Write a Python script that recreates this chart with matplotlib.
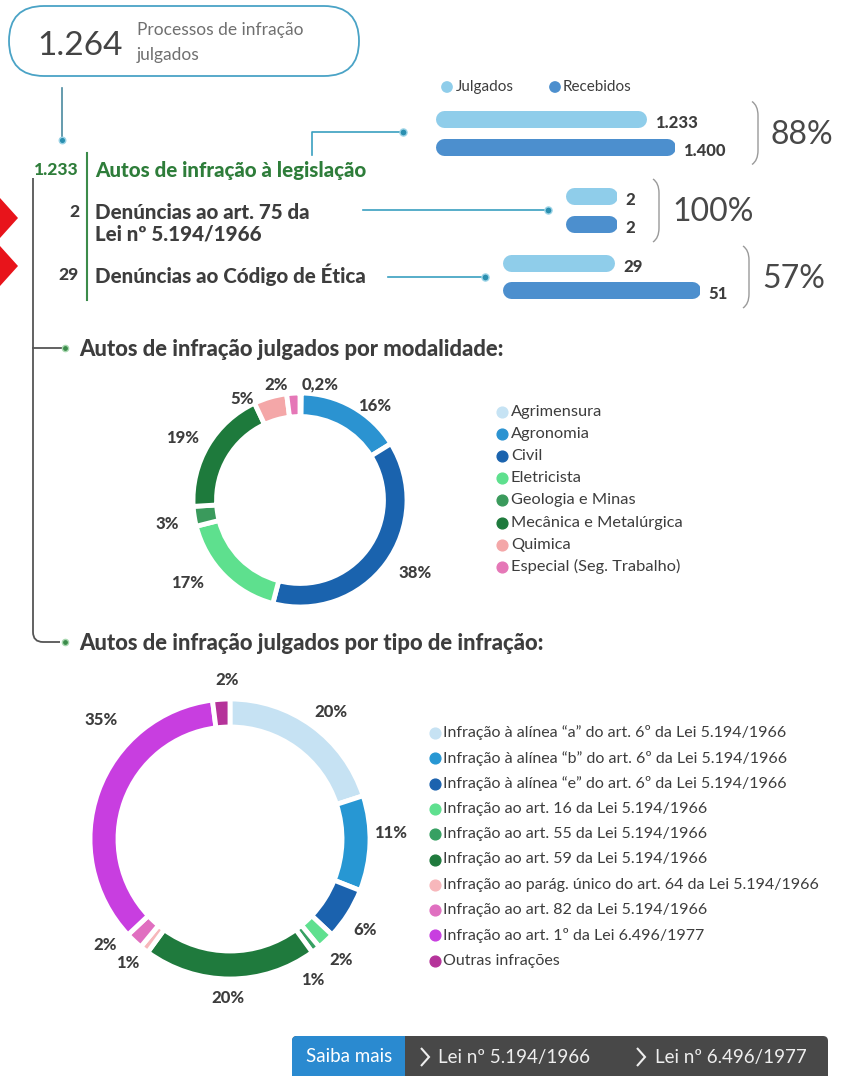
import numpy as np
import matplotlib.pyplot as plt
from matplotlib.patches import FancyBboxPatch, PathPatch, Polygon, Rectangle
from matplotlib.path import Path

plt.rcParams['font.family'] = ['Lato', 'DejaVu Sans']

# ---- dados ----
total_julgados = 1264
linhas = ['Autos de infração à legislação',
          'Denúncias ao art. 75 da\nLei nº 5.194/1966',
          'Denúncias ao Código de Ética']
julgados = [1233, 2, 29]
recebidos = [1400, 2, 51]
taxa = [88, 100, 57]

modalidades = ['Agrimensura', 'Agronomia', 'Civil', 'Eletricista', 'Geologia e Minas',
               'Mecânica e Metalúrgica', 'Quimica', 'Especial (Seg. Trabalho)']
modal_pct = [0.2, 16, 38, 17, 3, 19, 5, 2]
modal_cores = ['#c6e3f4', '#2b93d1', '#1a63ae', '#5ee08e', '#3a9a5c', '#1e7a3c', '#f4a7a8', '#e577b7']

tipos = ['Infração à alínea “a” do art. 6º da Lei 5.194/1966',
         'Infração à alínea “b” do art. 6º da Lei 5.194/1966',
         'Infração à alínea “e” do art. 6º da Lei 5.194/1966',
         'Infração ao art. 16 da Lei 5.194/1966',
         'Infração ao art. 55 da Lei 5.194/1966',
         'Infração ao art. 59 da Lei 5.194/1966',
         'Infração ao parág. único do art. 64 da Lei 5.194/1966',
         'Infração ao art. 82 da Lei 5.194/1966',
         'Infração ao art. 1º da Lei 6.496/1977',
         'Outras infrações']
tipo_pct = [20, 11, 6, 2, 1, 20, 1, 2, 35, 2]
tipo_cores = ['#c6e2f3', '#2797d3', '#1b62ae', '#5fe08f', '#36a062', '#1f7a3d',
              '#f7b7bb', '#e06fc0', '#c83ee0', '#b5339a']

W, H = 846, 1076
txt = '#3d3d3d'
verde = '#2e7d3a'
teal = '#3a9fc0'
c_julg = '#8fcdea'
c_rec = '#4c8fce'
negrito = 'black'


def fmt(v):
    return f'{v:,}'.replace(',', '.')


def fmt_pct(v):
    return f'{v:g}%'.replace('.', ',')


fig = plt.figure(figsize=(W / 100, H / 100), dpi=100)
ax = fig.add_axes([0, 0, 1, 1])
ax.set_xlim(0, W)
ax.set_ylim(H, 0)
ax.axis('off')

# ---- caixa do topo ----
ax.add_patch(FancyBboxPatch((9, 6), 350, 70, boxstyle='round,pad=0,rounding_size=35',
                            fc='white', ec='#4aa3c6', lw=1.3))
ax.text(37, 46, fmt(total_julgados), fontsize=24, color='#444', va='center', ha='left')
ax.text(137, 30, 'Processos de infração', fontsize=12.5, color='#707070', va='center')
ax.text(137, 55, 'julgados', fontsize=12.5, color='#707070', va='center')
ax.plot([62, 62], [88, 137], color='#4a8aa0', lw=1.2)
ax.scatter([62], [140], s=22, color='#2a8fb0', edgecolor='#9bd3e6', lw=1, zorder=5)

# ---- rótulos à esquerda ----
ax.plot([87, 87], [153, 300], color='#3b8b4a', lw=1.5)
ax.text(79, 170, fmt(julgados[0]), fontsize=12.5, fontweight=negrito, color=verde, ha='right', va='center')
ax.text(95, 170, linhas[0], fontsize=14.8, fontweight=negrito, color=verde, va='center')
ax.text(79, 212, fmt(julgados[1]), fontsize=12.5, fontweight=negrito, color=txt, ha='right', va='center')
ax.text(95, 223, linhas[1], fontsize=14.8, fontweight=negrito, color=txt, va='center', linespacing=1.15)
ax.text(79, 275, fmt(julgados[2]), fontsize=12.5, fontweight=negrito, color=txt, ha='right', va='center')
ax.text(95, 275, linhas[2], fontsize=14.8, fontweight=negrito, color=txt, va='center')

# marcadores vermelhos na margem
for yc in (218, 266):
    ax.add_patch(Polygon([[0, yc - 20], [18, yc], [0, yc + 20]], closed=True, fc='#e8141b', ec='none'))

# conectores até as barras
ax.plot([312, 312, 400], [155, 132, 132], color=teal, lw=1.2)
ax.plot([363, 544], [210, 210], color=teal, lw=1.2)
ax.plot([388, 481], [277, 277], color=teal, lw=1.2)
ax.scatter([403, 548, 485], [132, 210, 277], s=26, color='#2a8fb0', edgecolor='#9bd3e6', lw=1, zorder=5)

# ---- barras ----
ax.scatter([447, 555], [87, 87], s=55, color=[c_julg, c_rec], zorder=5)
ax.text(456, 87, 'Julgados', fontsize=11, color=txt, va='center')
ax.text(563, 87, 'Recebidos', fontsize=11, color=txt, va='center')

grupo_x0 = [435, 565, 502]
grupo_w = [240, 52, 198]
grupo_y = [(118.5, 146.5), (196, 224), (263, 290)]
chave_x = [752, 653, 743]
bar_h = 17

for i in range(3):
    yj, yr = grupo_y[i]
    yt, yb = yj - 14, yr + 14
    bx = fig.add_axes([grupo_x0[i] / W, 1 - yb / H, grupo_w[i] / W, (yb - yt) / H])
    bx.set_xlim(0, recebidos[i])
    bx.set_ylim(yb, yt)
    bx.axis('off')
    r = bar_h / 2 / grupo_w[i] * recebidos[i]
    for v, y, c in ((julgados[i], yj, c_julg), (recebidos[i], yr, c_rec)):
        bx.plot([r, v - r], [y, y], color=c, lw=bar_h * 0.72, solid_capstyle='round')
        bx.annotate(fmt(v), (v, y), xytext=(6, -3), textcoords='offset points',
                    fontsize=12, fontweight=negrito, color=txt, ha='left', va='center',
                    annotation_clip=False)
    # chave
    x = chave_x[i]
    y0, y1 = yj - 17, yr + 18
    verts = [(x, y0), (x + 6, y0 + 4), (x + 6, y0 + 14), (x + 6, y1 - 14), (x + 6, y1 - 4), (x, y1)]
    codes = [Path.MOVETO, Path.CURVE3, Path.CURVE3, Path.LINETO, Path.CURVE3, Path.CURVE3]
    ax.add_patch(PathPatch(Path(verts, codes), fc='none', ec='#9a9a9a', lw=1))
    ax.text(x + 19, (yj + yr) / 2 + 2, f'{taxa[i]}%', fontsize=23, color='#484848',
            va='center', ha='left')

# ---- árvore à esquerda ----
verts = [(33, 178), (33, 632), (33, 642), (43, 642), (60, 642)]
codes = [Path.MOVETO, Path.LINETO, Path.CURVE3, Path.CURVE3, Path.LINETO]
ax.add_patch(PathPatch(Path(verts, codes), fc='none', ec='#555', lw=1.3))
ax.plot([33, 62], [348, 348], color='#555', lw=1.3)
ax.scatter([65, 65], [348, 642], s=20, color='#3b8b4a', edgecolor='#a8d8b0', lw=1, zorder=5)
ax.text(79, 349, 'Autos de infração julgados por modalidade:', fontsize=15.8, fontweight=negrito,
        color=txt, va='center')
ax.text(79, 643, 'Autos de infração julgados por tipo de infração:', fontsize=15.8, fontweight=negrito,
        color=txt, va='center')


# ---- roscas ----
def rosca(cx, cy, R, valores, cores, dist, ajustes, largura):
    dx = fig.add_axes([(cx - R) / W, 1 - (cy + R) / H, 2 * R / W, 2 * R / H])
    wedges, labels = dx.pie(valores, colors=cores, startangle=90, counterclock=False,
                            labels=[fmt_pct(v) for v in valores], labeldistance=dist,
                            wedgeprops=dict(width=largura, edgecolor='white', linewidth=3.5),
                            textprops=dict(fontsize=12, fontweight=negrito, color=txt))
    dx.set_xlim(-1, 1)
    dx.set_ylim(-1, 1)
    for t, (ox, oy) in zip(labels, ajustes):
        px, py = t.get_position()
        t.set_position((px + ox / R, py - oy / R))
        t.set_ha('center')
        t.set_va('center')
    return dx


rosca(300, 500, 107, modal_pct, modal_cores, 1.2,
      [(19, 13), (11, 18), (12, -3), (-21, -7), (-6, 4), (-7, 4), (-22, 22), (-16, 13)], 0.22)
rosca(230, 839, 140, tipo_pct, tipo_cores, 1.16,
      [(5, 4), (-2, -11), (-2, 4), (0, 3), (-17, 13), (-2, -3), (-3, -4), (-14, -12), (24, -64), (7, 3)], 0.2)

# legendas
for k, (nome, c) in enumerate(zip(modalidades, modal_cores)):
    y = 412 + k * 22.1
    ax.scatter([502], [y], s=60, color=c, zorder=5)
    ax.text(511, y, nome, fontsize=11.8, color=txt, va='center')

for k, (nome, c) in enumerate(zip(tipos, tipo_cores)):
    y = 733 + k * 25.3
    ax.scatter([435], [y], s=60, color=c, zorder=5)
    ax.text(443, y, nome, fontsize=11.5, color=txt, va='center')

# ---- botão inferior ----
ax.add_patch(FancyBboxPatch((292, 1036), 536, 60, boxstyle='round,pad=0,rounding_size=5',
                            fc='#484848', ec='none'))
ax.add_patch(FancyBboxPatch((292, 1036), 120, 60, boxstyle='round,pad=0,rounding_size=5',
                            fc='#2a8ad0', ec='none'))
ax.add_patch(Rectangle((405, 1036), 10, 60, fc='#484848', ec='none'))
ax.text(349, 1057, 'Saiba mais', fontsize=13.5, color='white', ha='center', va='center')
for xc in (421, 637):
    ax.plot([xc, xc + 8, xc], [1048, 1057, 1066], color='#eee', lw=1.5,
            solid_joinstyle='miter', solid_capstyle='butt')
ax.text(438, 1057, 'Lei nº 5.194/1966', fontsize=13.5, color='#eee', ha='left', va='center')
ax.text(655, 1057, 'Lei nº 6.496/1977', fontsize=13.5, color='#eee', ha='left', va='center')

fig.savefig('out.png', dpi=100, facecolor='white')
